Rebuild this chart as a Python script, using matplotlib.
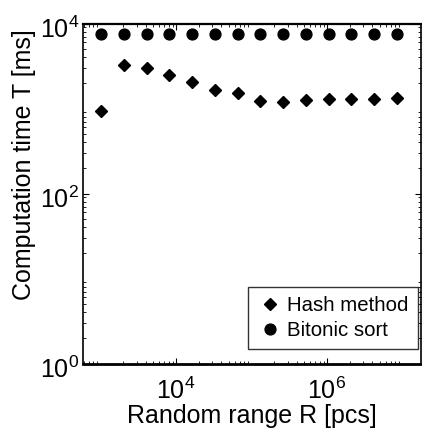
import matplotlib
matplotlib.use("Agg")
import matplotlib.pyplot as plt
import matplotlib.transforms as mtransforms
import numpy as np
from matplotlib.ticker import LogLocator, NullFormatter

plt.rcParams['font.family'] = ['Liberation Sans', 'DejaVu Sans']
plt.rcParams['mathtext.fontset'] = 'custom'
plt.rcParams['mathtext.rm'] = 'Liberation Sans'
plt.rcParams['mathtext.it'] = 'Liberation Sans:italic'
plt.rcParams['mathtext.bf'] = 'Liberation Sans:bold'

# Data
R = [1024, 2048, 4096, 8192, 16384, 32768, 65536, 131072, 262144,
     524288, 1048576, 2097152, 4194304, 8388608]
hash_ms = [923, 3280, 3000, 2455, 2030, 1630, 1520, 1235, 1180,
           1245, 1290, 1300, 1305, 1330]
bitonic_ms = [7550] * 14

W, H = 422, 430
fig = plt.figure(figsize=(W / 100, H / 100), dpi=100)
L, Rr, T, B = 83, 421, 23.5, 363.5
ax = fig.add_axes([L / W, 1 - B / H, (Rr - L) / W, (B - T) / H])

ax.plot(R, hash_ms, linestyle='none', marker='D', markersize=5.8,
        color='black', label='Hash method')
ax.plot(R, bitonic_ms, linestyle='none', marker='o', markersize=7.8,
        color='black', label='Bitonic sort')

ax.set_xscale('log')
ax.set_yscale('log')
# x-axis: 10^3 at px 100.5, decade 75.5 px
x0 = 3 - (100.5 - L) / 75.5
x1 = 3 + (Rr - 100.5) / 75.5
ax.set_xlim(10 ** x0, 10 ** x1)
ax.set_ylim(1, 1e4)

ax.xaxis.set_major_locator(LogLocator(base=10, numticks=20))
ax.xaxis.set_minor_locator(LogLocator(base=10, subs=np.arange(2, 10), numticks=20))
ax.yaxis.set_major_locator(LogLocator(base=10, numticks=20))
ax.yaxis.set_minor_locator(LogLocator(base=10, subs=np.arange(2, 10), numticks=20))
ax.xaxis.set_minor_formatter(NullFormatter())
ax.yaxis.set_minor_formatter(NullFormatter())
ax.set_xticks([1e4, 1e6])
ax.set_xticklabels([r'$10^4$', r'$10^6$'])
ax.set_yticks([1, 1e2, 1e4])
ax.set_yticklabels([r'$10^0$', r'$10^2$', r'$10^4$'])

ax.tick_params(which='both', direction='in', top=True, right=True,
               labelsize=18, color='black')
ax.tick_params(axis='x', which='major', pad=10)
ax.tick_params(axis='y', which='major', pad=3)
ax.tick_params(which='major', length=4, width=0.8)
ax.tick_params(which='minor', length=2, width=0.6)

# shift y tick labels slightly down
offset = mtransforms.ScaledTranslation(0, -4 / 100, fig.dpi_scale_trans)
for lab in ax.get_yticklabels():
    lab.set_transform(lab.get_transform() + offset)

for s in ax.spines.values():
    s.set_linewidth(1.2)
ax.spines['bottom'].set_linewidth(2)
ax.spines['top'].set_linewidth(1.6)

ax.set_xlabel('Random range R [pcs]', fontsize=18)
ax.xaxis.set_label_coords(0.5, -0.118)
ax.set_ylabel('Computation time T [ms]', fontsize=18)
ax.yaxis.set_label_coords(-0.14, 0.584)

leg = ax.legend(loc='lower right', bbox_to_anchor=(0.991, 0.043), fontsize=14.7,
                frameon=True, fancybox=False, edgecolor='black',
                handlelength=1.25, handletextpad=0.25, borderpad=0.45,
                labelspacing=0.28, borderaxespad=0)
leg.get_frame().set_linewidth(1.0)

fig.savefig('out.png', dpi=100)
